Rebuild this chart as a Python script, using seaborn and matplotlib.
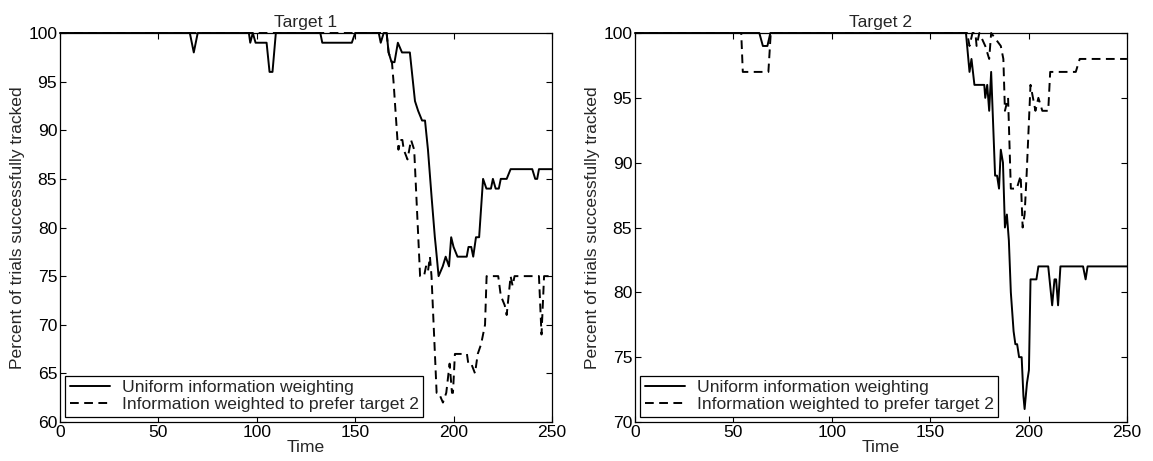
import matplotlib
matplotlib.use("Agg")
import matplotlib.pyplot as plt
import seaborn as sns
import pandas as pd

# ---- data: Target 1 ----
t1_uniform_t = [0, 66, 67, 68, 69, 70, 96, 96.7, 98, 99.4, 105, 106.5, 108, 109.7,
                132.3, 133.3, 148.3, 150, 162, 163, 164.5, 166, 167, 168.5, 170, 171.7,
                173.8, 177.8, 180.4, 182, 184, 185.5, 187, 188.9, 190.5, 191, 192.4,
                194.5, 196, 197.7, 198.8, 200, 202, 206.7, 207.6, 209, 210, 211.4, 213,
                215, 216.7, 219, 220, 221.4, 223, 224, 227, 229, 240, 241.5, 242.5,
                243.4, 250]
t1_uniform_v = [100, 100, 99, 98, 99, 100, 100, 99, 100, 99, 99, 96, 96, 100,
                100, 99, 99, 100, 100, 99, 100, 100, 98, 97, 97, 99,
                98, 98, 93, 92, 91, 91, 88, 83, 79, 78, 75,
                76, 77, 76, 79, 78, 77, 77, 78, 78, 77, 79, 79,
                85, 84, 84, 85, 84, 84, 85, 85, 86, 86, 85, 85,
                86, 86]

t1_pref_t = [0, 166, 167, 168.7, 169.5, 171.5, 172, 173, 174, 174.7, 176.6, 178.4,
             180, 183, 185, 186, 187, 188, 188.8, 191.4, 192.5, 194.6, 196.3, 198,
             199.2, 199.7, 200.7, 203, 206.8, 207.5, 209, 210.9, 212.3, 214, 216,
             216.8, 222.7, 224, 226, 227, 229, 230, 231, 243.4, 244.7, 246, 250]
t1_pref_v = [100, 100, 98, 97, 95, 89, 88, 89, 89, 88, 87, 89,
             88, 75, 75, 76, 75.5, 77, 75, 63, 63, 62, 63, 66,
             63, 63, 67, 67, 67, 66, 66, 65, 67, 68, 70,
             75, 75, 73, 72, 71, 75, 74, 75, 75, 69, 75, 75]

# ---- data: Target 2 ----
t2_uniform_t = [0, 63.2, 65, 67.3, 68.8, 168.2, 170, 171, 172.5, 177.5, 178, 179,
                180, 181, 182, 183, 184, 185, 185.9, 187, 188, 189, 190, 191, 192.4,
                193.3, 194.2, 195.2, 196.5, 197.4, 198, 199.2, 200.2, 201, 204, 205,
                210, 212, 213.2, 214, 215, 216.2, 227.7, 229, 230, 250]
t2_uniform_v = [100, 100, 99, 99, 100, 100, 97, 98, 96, 96, 95, 96,
                94, 97, 93, 89, 89, 88, 91, 90, 85, 86, 84, 80, 77,
                76, 76, 75, 75, 72, 71, 73, 74, 81, 81, 82,
                82, 79, 81, 81, 79, 82, 82, 81, 82, 82]

t2_pref_t = [0, 54, 54.8, 67.8, 69, 168.8, 170, 171.5, 173, 173.6, 175, 178,
             180, 181, 185.9, 187.2, 188, 189.6, 191, 194, 196, 197, 198, 199,
             201, 203.5, 205, 207, 210, 211, 224, 226, 250]
t2_pref_v = [100, 100, 97, 97, 100, 100, 99, 100, 100, 99, 100, 99,
             98, 100, 99, 98, 94, 95, 88, 88, 89, 85, 86, 89,
             96, 94, 95, 94, 94, 97, 97, 98, 98]

titles = ["Target 1", "Target 2"]
ylims = [(60, 100), (70, 100)]
label_uniform = "Uniform information weighting"
label_pref = "Information weighted to prefer target 2"
xlabel = "Time"
ylabel = "Percent of trials successfully tracked"

FS = 12.6

sns.set_style("ticks")
plt.rcParams["font.family"] = ["Liberation Sans", "DejaVu Sans"]
plt.rcParams["font.size"] = FS
plt.rcParams["xtick.direction"] = "in"
plt.rcParams["ytick.direction"] = "in"
plt.rcParams["xtick.top"] = True
plt.rcParams["ytick.right"] = True

fig = plt.figure(figsize=(11.53, 4.61), dpi=100)
W = 0.4267
axes = [fig.add_axes([0.052, 0.0846, W, 0.8438]),
        fig.add_axes([0.5507, 0.0846, W, 0.8438])]

series = [
    (t1_uniform_t, t1_uniform_v, t1_pref_t, t1_pref_v),
    (t2_uniform_t, t2_uniform_v, t2_pref_t, t2_pref_v),
]

for ax, (ut, uv, pt, pv), title, yl in zip(axes, series, titles, ylims):
    du = pd.DataFrame({"Time": ut, "Value": uv})
    dp = pd.DataFrame({"Time": pt, "Value": pv})
    sns.lineplot(data=du, x="Time", y="Value", ax=ax, color="black", lw=1.4,
                 estimator=None, sort=False, label=label_uniform)
    sns.lineplot(data=dp, x="Time", y="Value", ax=ax, color="black", lw=1.4,
                 estimator=None, sort=False, label=label_pref, dashes=False)
    ax.lines[-1].set_dashes((4.5, 2.8))
    for ln in ax.lines:
        ln.set_clip_on(False)
    ax.set_xlim(0, 250)
    ax.set_ylim(*yl)
    ax.set_xticks(range(0, 251, 50))
    ax.set_yticks(range(yl[0], 101, 5))
    ax.set_title(title, fontsize=FS, pad=4)
    ax.set_xlabel(xlabel, fontsize=FS, labelpad=0)
    ax.set_ylabel(ylabel, fontsize=FS, labelpad=2)
    ax.tick_params(length=4, width=0.8, labelsize=FS, pad=2, colors="black")
    for s in ax.spines.values():
        s.set_linewidth(0.9)
        s.set_color("black")
    leg = ax.legend(loc="lower left", fontsize=FS, handlelength=2.3,
                    borderaxespad=0.3, fancybox=False, framealpha=1,
                    borderpad=0.25, labelspacing=0.1, handletextpad=0.7)
    leg.get_frame().set_edgecolor("black")
    leg.get_frame().set_linewidth(0.9)

fig.savefig("out.png", dpi=100, facecolor="white")
